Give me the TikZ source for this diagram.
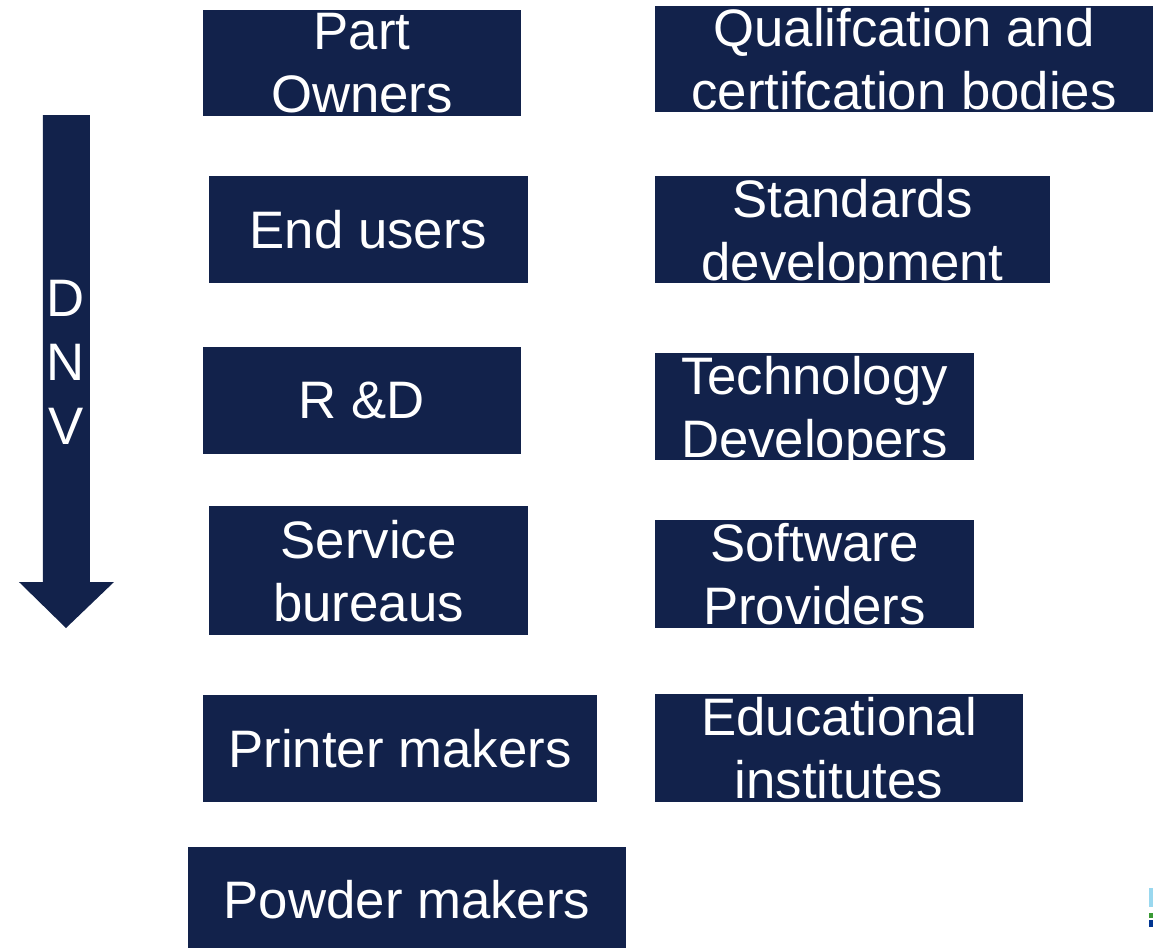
\documentclass[tikz,border=0pt]{standalone}
\usepackage{fontspec}
\setmainfont{Liberation Sans}
\usepackage{tikz}

\definecolor{navy}{RGB}{18,34,75}
\definecolor{logoA}{RGB}{154,216,239}
\definecolor{logoB}{RGB}{58,154,53}
\definecolor{logoC}{RGB}{0,53,145}

\begin{document}
\begin{tikzpicture}[x=0.01cm, y=-0.01cm,
    box/.style={fill=navy, draw=none, inner sep=0pt, text=white, align=center,
      text depth=0pt, font=\fontsize{15}{17.9}\selectfont},
    lettere/.style={text=white, align=center, font=\fontsize{15}{18.2}\selectfont}]
    \useasboundingbox (0,0) rectangle (1153,947);
    % colonna di sinistra
    \node[box, minimum width=3.18cm, minimum height=1.06cm] (owners) at (362,63) {Part\\Owners};
    \node[box, minimum width=3.19cm, minimum height=1.07cm] (users) at (368.5,229.5) {End users};
    \node[box, minimum width=3.18cm, minimum height=1.07cm] (rd) at (362,400.5) {R \&D};
    \node[box, minimum width=3.19cm, minimum height=1.29cm] (bureaus) at (368.5,570.5) {Service\\bureaus};
    \node[box, minimum width=3.94cm, minimum height=1.07cm] (printer) at (400,748.5) {Printer makers};
    \node[box, minimum width=4.38cm, minimum height=1.04cm] (powder) at (407,899) {Powder makers};
    % colonna di destra
    \node[box, minimum width=4.98cm, minimum height=1.06cm] (bodies) at (904,59) {Qualifcation and\\certifcation bodies};
    \node[box, minimum width=3.95cm, minimum height=1.07cm] (standards) at (852.5,229.5) {Standards\\development};
    \node[box, minimum width=3.19cm, minimum height=1.07cm] (techdev) at (814.5,406.5) {Technology\\Developers};
    \node[box, minimum width=3.19cm, minimum height=1.08cm] (software) at (814.5,574) {Software\\Providers};
    \node[box, minimum width=3.68cm, minimum height=1.08cm] (edu) at (839,748) {Educational\\institutes};
    % freccia DNV
    \fill[navy] (43,115) -- (90,115) -- (90,582) -- (114,582) -- (66,628)
      -- (19,582) -- (43,582) -- cycle;
    \node[lettere] (dnv) at (66,362) {D\\N\\V};
    % logo tagliato
    \fill[logoA] (1149,888) rectangle (1153,907);
    \fill[logoB] (1149,913) rectangle (1153,918);
    \fill[logoC] (1149,920) rectangle (1153,927);
\end{tikzpicture}
\end{document}
